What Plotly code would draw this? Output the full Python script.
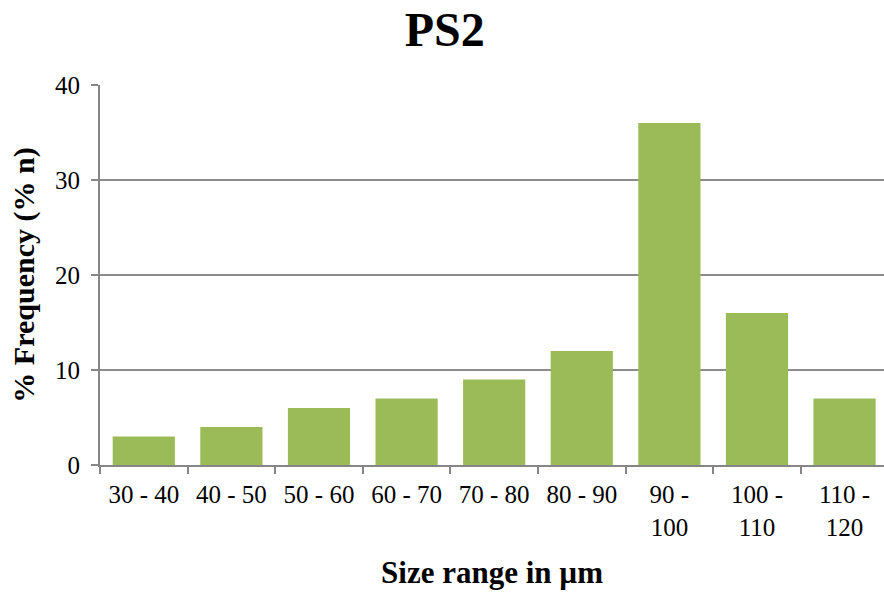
import plotly.graph_objects as go

categories = ["30 - 40", "40 - 50", "50 - 60", "60 - 70", "70 - 80", "80 - 90",
              "90 -<br>100", "100 -<br>110", "110 -<br>120"]
frequency = [3, 4, 6, 7, 9, 12, 36, 16, 7]

FONT = "Liberation Serif, Times New Roman, serif"

fig = go.Figure(go.Bar(x=categories, y=frequency, marker_color="#9BBB59",
                       marker_line_width=0))

fig.update_layout(
    width=884, height=593,
    margin=dict(l=100, r=0, t=85, b=128),
    paper_bgcolor="white", plot_bgcolor="white",
    bargap=0.29,
    showlegend=False,
    font=dict(family=FONT, color="black", size=25),
    title=dict(text="<b>PS2</b>", x=0.503, xanchor="center", y=0.95, yanchor="middle",
               font=dict(family=FONT, size=48, color="black")),
)
fig.update_xaxes(
    type="category", range=[-0.5, 8.45],
    showline=True, linecolor="#868686", linewidth=2,
    ticks="outside", tickson="boundaries", ticklen=7, tickcolor="#868686", tickwidth=2,
    showgrid=False, ticklabelstandoff=6,
    tickfont=dict(family=FONT, size=25, color="black"),
    title=dict(text="<b>Size range in µm</b>", font=dict(family=FONT, size=31, color="black"),
               standoff=22),
)
fig.update_yaxes(
    range=[0, 40], tickvals=[0, 10, 20, 30, 40],
    showline=True, linecolor="#868686", linewidth=2,
    ticks="outside", ticklen=7, tickcolor="#868686", tickwidth=2,
    showgrid=True, gridcolor="#8C8C8C", gridwidth=1.5,
    zeroline=False, ticklabelstandoff=6,
    tickfont=dict(family=FONT, size=25, color="black"),
    title=dict(text="<b>% Frequency (% n)</b>", font=dict(family=FONT, size=30, color="black"),
               standoff=12),
)

fig.write_html("out.html")
